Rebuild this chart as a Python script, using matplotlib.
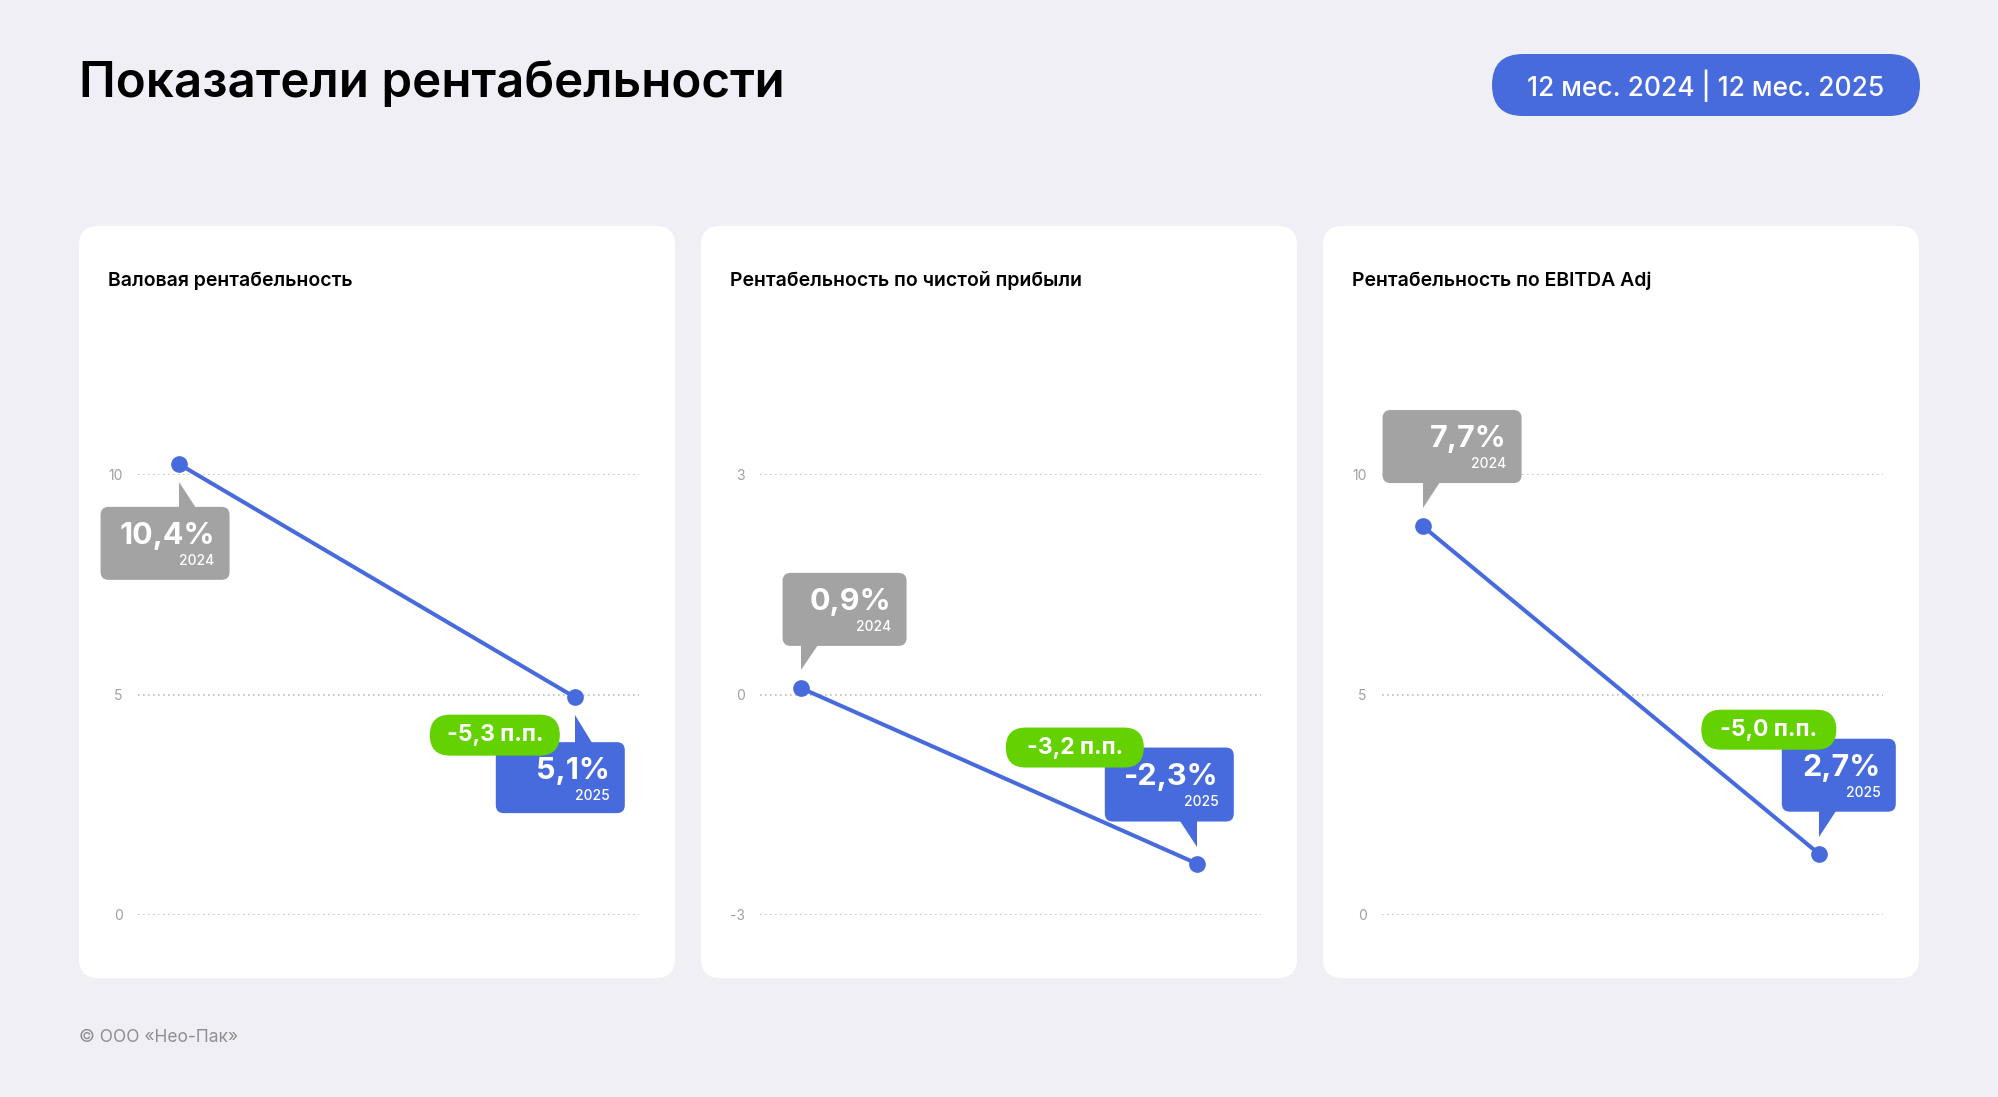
import matplotlib.pyplot as plt
import matplotlib.transforms as mtransforms
from matplotlib.patches import FancyBboxPatch, Polygon

W, H = 1999, 1097

title = "Показатели рентабельности"
period = "12 мес. 2024 | 12 мес. 2025"
footer = "© ООО «Нео-Пак»"

panel_titles = ["Валовая рентабельность",
                "Рентабельность по чистой прибыли",
                "Рентабельность по EBITDA Adj"]
years = ["2024", "2025"]

# point heights as they are drawn on each small chart
gross = [10.23, 4.94]
net = [0.09, -2.30]
ebitda = [8.82, 1.39]

gross_labels = ["10,4%", "5,1%"]
net_labels = ["0,9%", "-2,3%"]
ebitda_labels = ["7,7%", "2,7%"]
deltas = ["-5,3 п.п.", "-3,2 п.п.", "-5,0 п.п."]

gross_ticks = [0, 5, 10]
net_ticks = [-3, 0, 3]
ebitda_ticks = [0, 5, 10]

BG = "#EFEFF5"
BLUE = "#476BDC"
GREY = "#A3A3A3"
GREEN = "#64D200"
TICK = "#A0A0A0"

plt.rcParams['font.family'] = ['Inter', 'DejaVu Sans']
plt.rcParams['axes.unicode_minus'] = False

fig = plt.figure(figsize=(W / 100, H / 100), dpi=100, facecolor=BG)
pix = mtransforms.IdentityTransform()


def fy(y):
    return 1 - y / H


def rounded(x0, y0, x1, y1, r, color, tr, z):
    # x0,y0,x1,y1 in pixels (y up)
    p = FancyBboxPatch((x0, y0), x1 - x0, y1 - y0,
                       boxstyle="round,pad=0,rounding_size=%g" % r,
                       fc=color, ec="none", transform=tr, zorder=z)
    fig.add_artist(p)
    return p


# header
fig.text(79 / W, fy(97), title, fontsize=35.5, fontweight="semibold",
         color="black", va="baseline", ha="left")
rounded(1492, H - 116, 1920, H - 54, 31, BLUE, pix, 1)
fig.text(1706 / W, fy(86), period, fontsize=19, fontweight="medium",
         color="white", ha="center", va="center")
fig.text(79 / W, fy(1037), footer, fontsize=12.5, color="#8E8E93",
         ha="left", va="center")

panel_left = [79, 701, 1323]
series = [gross, net, ebitda]
labels = [gross_labels, net_labels, ebitda_labels]
ticks = [gross_ticks, net_ticks, ebitda_ticks]

# bubble shapes, pixel offsets from the point: box (x0, x1, y0, y1), tail polygon
grey_box = [(-78, 51, -116, -43), (-18, 106, 42, 115), (-40, 99, 43, 116)]
grey_tail = [[(0, -18), (0, -47), (19, -47)],
             [(0, 18), (0, 46), (19, 46)],
             [(0, 18), (0, 47), (19, 47)]]
blue_box = [(-79, 50, -116, -45), (-92, 37, 42, 116), (-37, 77, 42, 115)]
blue_tail = [[(0, -18), (0, -49), (19, -49)],
             [(0, 17), (0, 46), (-19, 46)],
             [(0, 17), (0, 46), (19, 46)]]
# green pill: centre offset, width, height
green_pill = [((-80, -38), 130, 41), ((-122, 116), 138, 40), ((-50, 124), 135, 40)]


def bubble(ax, x, y, box, tail, color, value, year):
    tr = mtransforms.Affine2D() + mtransforms.ScaledTranslation(x, y, ax.transData)
    x0, x1, y0, y1 = box
    rounded(x0, y0, x1, y1, 8, color, tr, 3)
    fig.add_artist(Polygon(tail, closed=True, fc=color, ec="none",
                           transform=tr, zorder=3))
    fig.text(x1 - 15, y1 - 37, value, transform=tr, fontsize=22,
             fontweight="bold", color="white", ha="right", va="baseline",
             zorder=4)
    fig.text(x1 - 15, y1 - 54, year, transform=tr, fontsize=10,
             fontweight="medium", color="white", ha="right", va="center",
             zorder=4)


for i in range(3):
    L = panel_left[i]
    rounded(L, H - 978, L + 596, H - 226, 19, "white", pix, -1)
    fig.text((L + 29) / W, fy(281), panel_titles[i], fontsize=14,
             fontweight="semibold", color="black", ha="left", va="center")

    ax = fig.add_axes([(L + 59) / W, fy(915), 501 / W, 441 / H])
    ax.set_facecolor("none")
    for s in ax.spines.values():
        s.set_visible(False)
    ax.set_xlim(-0.1024, 1.162)
    ax.set_ylim(ticks[i][0], ticks[i][-1])
    ax.set_xticks([])
    ax.set_yticks(ticks[i])
    ax.tick_params(axis="y", length=0, pad=11, labelsize=10, labelcolor=TICK)
    for t in ticks[i]:
        ax.axhline(t, color="#BDBDBD", lw=1.2, ls=(0, (1, 2)), zorder=1)

    xs = range(len(years))
    ax.plot(xs, series[i], color=BLUE, lw=2.9, marker="o", ms=11,
            clip_on=False, zorder=2)

    bubble(ax, 0, series[i][0], grey_box[i], grey_tail[i], GREY,
           labels[i][0], years[0])
    bubble(ax, 1, series[i][1], blue_box[i], blue_tail[i], BLUE,
           labels[i][1], years[1])

    (cx, cy), pw, ph = green_pill[i]
    tr = mtransforms.Affine2D() + mtransforms.ScaledTranslation(1, series[i][1], ax.transData)
    rounded(cx - pw / 2, cy - ph / 2, cx + pw / 2, cy + ph / 2, ph / 2, GREEN, tr, 5)
    fig.text(cx, cy, deltas[i], transform=tr, fontsize=16.5, fontweight="bold",
             color="white", ha="center", va="center", zorder=6)

fig.savefig("out.png", dpi=100, facecolor=BG)
